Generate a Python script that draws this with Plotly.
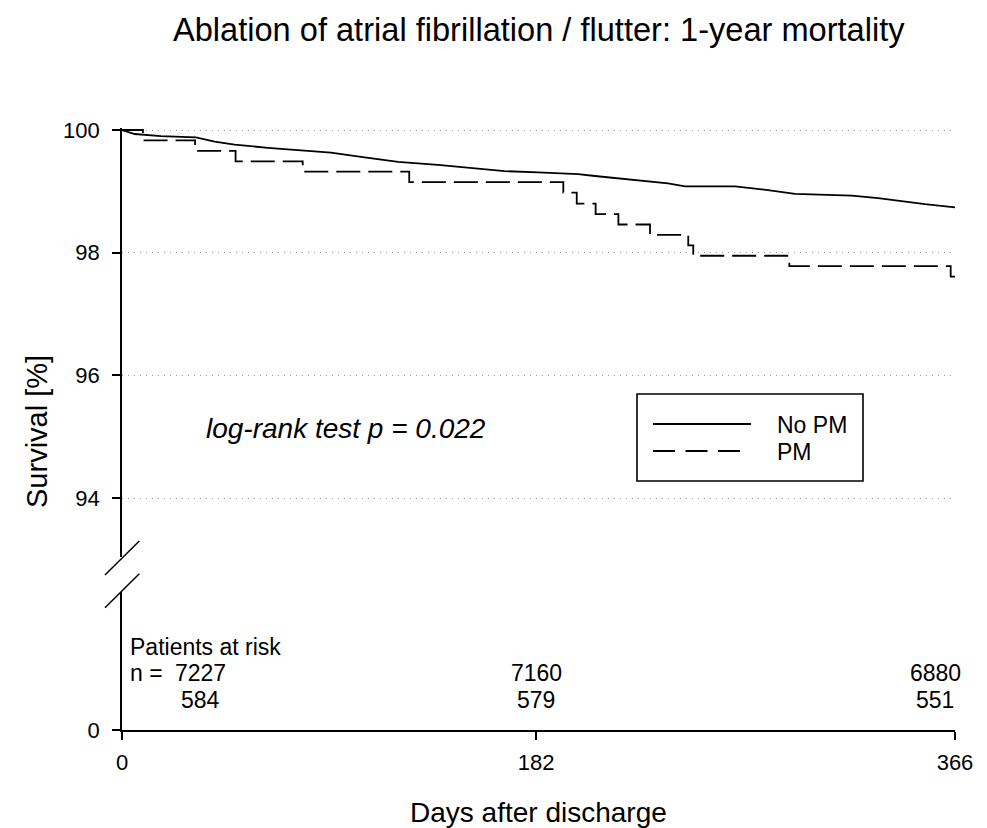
import plotly.graph_objects as go

# ---------------- data ----------------
nopm_days = [0, 5.6, 17.1, 32.5, 40.7, 49.5, 64.1, 81.7, 91.8, 106.6, 121.3, 138.8,
             156.4, 168.1, 182.8, 200.4, 207.8, 222.3, 239.9, 247.4, 269.3, 283.8,
             295.7, 320.6, 332.2, 352.8, 366]
nopm_surv = [100.0, 99.935, 99.90, 99.88, 99.81, 99.76, 99.71, 99.66, 99.63, 99.555,
             99.48, 99.43, 99.375, 99.33, 99.31, 99.28, 99.25, 99.20, 99.13, 99.08,
             99.08, 99.02, 98.96, 98.93, 98.89, 98.79, 98.74]

pm_days = [0, 9.2, 32.1, 49.9, 79.4, 126.2, 193.9, 199.8, 208.1, 218.1, 232.0,
           248.8, 251.0, 293.2, 364.1, 366]
pm_surv = [100.0, 99.83, 99.66, 99.49, 99.32, 99.15, 98.98, 98.80, 98.63, 98.46,
           98.29, 98.12, 97.95, 97.78, 97.61, 97.61]

x_ticks = [0, 182, 366]
y_ticks_top = [94, 96, 98, 100]
y_ticks_bottom = [0]

risk_days = [0, 182, 366]
risk_nopm = [7227, 7160, 6880]
risk_pm = [584, 579, 551]

series_names = ["No PM", "PM"]
title_text = "Ablation of atrial fibrillation / flutter: 1-year mortality"
x_title = "Days after discharge"
y_title = "Survival [%]"
pvalue_text = "log-rank test p = 0.022"

# ---------------- layout geometry (pixels) ----------------
W, H = 987, 828
PL, PR, PT, PB = 122, 955, 128, 730
TOP_BOTTOM_PX = 557      # lower end of upper y segment
LOW_TOP_PX = 592         # upper end of lower y segment
PX_PER_UNIT = 61.35      # pixels per % in upper segment


def xp(px):
    return (px - PL) / (PR - PL)


def yp(py):
    return (PB - py) / (PB - PT)


top_range = [100 - (TOP_BOTTOM_PX - 130) / PX_PER_UNIT, 100 + (130 - PT) / PX_PER_UNIT]

FONT = "Liberation Sans, Arial, Helvetica, sans-serif"
BLACK = "#000000"

fig = go.Figure()

fig.add_trace(go.Scatter(
    x=nopm_days, y=nopm_surv, mode="lines", name=series_names[0],
    line=dict(color=BLACK, width=1.8), xaxis="x", yaxis="y", showlegend=False,
))
fig.add_trace(go.Scatter(
    x=pm_days, y=pm_surv, mode="lines", name=series_names[1], line_shape="hv",
    line=dict(color=BLACK, width=1.8, dash="24px,8px"), xaxis="x", yaxis="y",
    showlegend=False,
))
# invisible trace so that the lower (risk-table) subplot exists
fig.add_trace(go.Scatter(
    x=risk_days, y=[0.5] * len(risk_days), mode="markers",
    marker=dict(opacity=0, size=1), hoverinfo="skip", showlegend=False,
    xaxis="x", yaxis="y2",
))

axis_common = dict(
    ticks="outside", ticklen=8, tickwidth=1.5, tickcolor=BLACK,
    showline=True, linecolor=BLACK, linewidth=1.6, zeroline=False,
    tickfont=dict(family=FONT, size=22, color=BLACK),
)

fig.update_layout(
    width=W, height=H,
    margin=dict(l=PL, r=W - PR, t=PT, b=H - PB, pad=0),
    plot_bgcolor="white", paper_bgcolor="white",
    showlegend=False,
    xaxis=dict(domain=[0, 1], range=[0, 366], anchor="y2", tickvals=x_ticks,
               showgrid=False, ticklabelstandoff=4, **axis_common),
    yaxis=dict(domain=[yp(TOP_BOTTOM_PX), 1], range=top_range, anchor="x",
               tickvals=y_ticks_top, showgrid=True, griddash="1px,5px",
               gridcolor="#9a9a9a", gridwidth=1, ticklabelstandoff=8, **axis_common),
    yaxis2=dict(domain=[0, yp(LOW_TOP_PX)], range=[0, 1], anchor="x",
                tickvals=y_ticks_bottom, showgrid=False, ticklabelstandoff=8,
                **axis_common),
)

shapes = []
# axis break marks
for (x0, y0, x1, y1) in [(105, 575, 139.3, 541), (105, 607.7, 139.3, 573.7)]:
    shapes.append(dict(type="line", xref="paper", yref="paper",
                       x0=xp(x0), y0=yp(y0), x1=xp(x1), y1=yp(y1),
                       line=dict(color=BLACK, width=1.5)))
# legend box
shapes.append(dict(type="rect", xref="paper", yref="paper",
                   x0=xp(637), x1=xp(863), y0=yp(481), y1=yp(394),
                   line=dict(color=BLACK, width=1.6), fillcolor="white", layer="above"))
shapes.append(dict(type="line", xref="paper", yref="paper",
                   x0=xp(653), x1=xp(751), y0=yp(424), y1=yp(424),
                   line=dict(color=BLACK, width=1.8), layer="above"))
shapes.append(dict(type="line", xref="paper", yref="paper",
                   x0=xp(653), x1=xp(740), y0=yp(451), y1=yp(451),
                   line=dict(color=BLACK, width=1.8, dash="22px,10.5px"), layer="above"))
fig.update_layout(shapes=shapes)

ann = []


def text(t, px, py, size=23, xanchor="center", angle=0, italic=False):
    ann.append(dict(text=t, xref="paper", yref="paper", x=xp(px), y=yp(py),
                    xanchor=xanchor, yanchor="middle", showarrow=False,
                    textangle=angle,
                    font=dict(family=FONT, size=size, color=BLACK,
                              style="italic" if italic else "normal")))


text(title_text, 539, 29, size=32.6)
text(y_title, 37, 432, size=29, angle=-90)
text(x_title, 538, 812, size=28)
text(pvalue_text, 204, 428, size=28, xanchor="left", italic=True)
text(series_names[0], 775, 425, size=23, xanchor="left")
text(series_names[1], 775, 452, size=23, xanchor="left")
text("Patients at risk", 128, 647, size=23, xanchor="left")
text("n =", 128, 673, size=23, xanchor="left")

shifts = [78, 0, -20]
for d, a, b, s in zip(risk_days, risk_nopm, risk_pm, shifts):
    for val, py in ((a, 673), (b, 699.5)):
        ann.append(dict(text=str(val), xref="x", yref="paper", x=d, y=yp(py),
                        xshift=s, xanchor="center", yanchor="middle", showarrow=False,
                        font=dict(family=FONT, size=23, color=BLACK)))

fig.update_layout(annotations=ann)

fig.write_html("out.html", config={"displayModeBar": False},
               post_script="document.body.style.margin='0';document.body.style.padding='0';")
